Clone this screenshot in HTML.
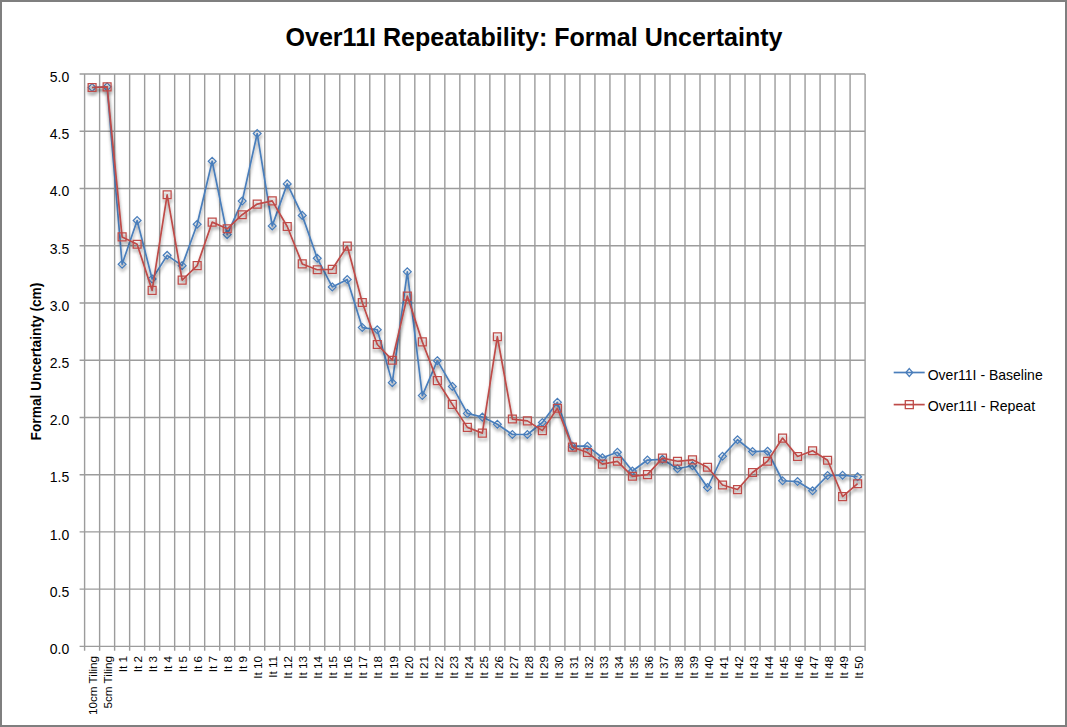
<!DOCTYPE html><html><head><meta charset="utf-8"><style>html,body{margin:0;padding:0;background:#fff;}svg{display:block;}text{font-family:"Liberation Sans",sans-serif;fill:#000;}</style></head><body>
<svg width="1067" height="727" viewBox="0 0 1067 727">
<defs><filter id="sh" x="-20%" y="-20%" width="140%" height="140%"><feDropShadow dx="0.5" dy="3" stdDeviation="1.7" flood-color="#000" flood-opacity="0.38"/></filter></defs>
<rect x="0" y="0" width="1067" height="727" fill="#fff"/>
<path d="M84.60 74.00V650.80M99.61 74.00V650.80M114.62 74.00V650.80M129.63 74.00V650.80M144.64 74.00V650.80M159.65 74.00V650.80M174.66 74.00V650.80M189.67 74.00V650.80M204.68 74.00V650.80M219.69 74.00V650.80M234.70 74.00V650.80M249.71 74.00V650.80M264.72 74.00V650.80M279.73 74.00V650.80M294.73 74.00V650.80M309.74 74.00V650.80M324.75 74.00V650.80M339.76 74.00V650.80M354.77 74.00V650.80M369.78 74.00V650.80M384.79 74.00V650.80M399.80 74.00V650.80M414.81 74.00V650.80M429.82 74.00V650.80M444.83 74.00V650.80M459.84 74.00V650.80M474.85 74.00V650.80M489.86 74.00V650.80M504.87 74.00V650.80M519.88 74.00V650.80M534.89 74.00V650.80M549.90 74.00V650.80M564.91 74.00V650.80M579.92 74.00V650.80M594.93 74.00V650.80M609.94 74.00V650.80M624.95 74.00V650.80M639.96 74.00V650.80M654.97 74.00V650.80M669.98 74.00V650.80M684.98 74.00V650.80M699.99 74.00V650.80M715.00 74.00V650.80M730.01 74.00V650.80M745.02 74.00V650.80M760.03 74.00V650.80M775.04 74.00V650.80M790.05 74.00V650.80M805.06 74.00V650.80M820.07 74.00V650.80M835.08 74.00V650.80M850.09 74.00V650.80M865.10 74.00V650.80M79.60 646.40H865.10M79.60 589.16H865.10M79.60 531.92H865.10M79.60 474.68H865.10M79.60 417.44H865.10M79.60 360.20H865.10M79.60 302.96H865.10M79.60 245.72H865.10M79.60 188.48H865.10M79.60 131.24H865.10M79.60 74.00H865.10" stroke="#9c9c9c" stroke-width="1.4" fill="none"/>
<text x="69.3" y="654.20" font-size="14" text-anchor="end">0.0</text>
<text x="69.3" y="596.96" font-size="14" text-anchor="end">0.5</text>
<text x="69.3" y="539.72" font-size="14" text-anchor="end">1.0</text>
<text x="69.3" y="482.48" font-size="14" text-anchor="end">1.5</text>
<text x="69.3" y="425.24" font-size="14" text-anchor="end">2.0</text>
<text x="69.3" y="368.00" font-size="14" text-anchor="end">2.5</text>
<text x="69.3" y="310.76" font-size="14" text-anchor="end">3.0</text>
<text x="69.3" y="253.52" font-size="14" text-anchor="end">3.5</text>
<text x="69.3" y="196.28" font-size="14" text-anchor="end">4.0</text>
<text x="69.3" y="139.04" font-size="14" text-anchor="end">4.5</text>
<text x="69.3" y="81.80" font-size="14" text-anchor="end">5.0</text>
<text transform="translate(97.30 655.90) rotate(-90)" font-size="11.7" text-anchor="end">10cm Tiling</text>
<text transform="translate(112.31 655.90) rotate(-90)" font-size="11.7" text-anchor="end">5cm Tiling</text>
<text transform="translate(127.32 655.90) rotate(-90)" font-size="11.7" text-anchor="end">It 1</text>
<text transform="translate(142.33 655.90) rotate(-90)" font-size="11.7" text-anchor="end">It 2</text>
<text transform="translate(157.34 655.90) rotate(-90)" font-size="11.7" text-anchor="end">It 3</text>
<text transform="translate(172.35 655.90) rotate(-90)" font-size="11.7" text-anchor="end">It 4</text>
<text transform="translate(187.36 655.90) rotate(-90)" font-size="11.7" text-anchor="end">It 5</text>
<text transform="translate(202.37 655.90) rotate(-90)" font-size="11.7" text-anchor="end">It 6</text>
<text transform="translate(217.38 655.90) rotate(-90)" font-size="11.7" text-anchor="end">It 7</text>
<text transform="translate(232.39 655.90) rotate(-90)" font-size="11.7" text-anchor="end">It 8</text>
<text transform="translate(247.40 655.90) rotate(-90)" font-size="11.7" text-anchor="end">It 9</text>
<text transform="translate(262.41 655.90) rotate(-90)" font-size="11.7" text-anchor="end">It 10</text>
<text transform="translate(277.42 655.90) rotate(-90)" font-size="11.7" text-anchor="end">It 11</text>
<text transform="translate(292.43 655.90) rotate(-90)" font-size="11.7" text-anchor="end">It 12</text>
<text transform="translate(307.44 655.90) rotate(-90)" font-size="11.7" text-anchor="end">It 13</text>
<text transform="translate(322.45 655.90) rotate(-90)" font-size="11.7" text-anchor="end">It 14</text>
<text transform="translate(337.46 655.90) rotate(-90)" font-size="11.7" text-anchor="end">It 15</text>
<text transform="translate(352.47 655.90) rotate(-90)" font-size="11.7" text-anchor="end">It 16</text>
<text transform="translate(367.48 655.90) rotate(-90)" font-size="11.7" text-anchor="end">It 17</text>
<text transform="translate(382.49 655.90) rotate(-90)" font-size="11.7" text-anchor="end">It 18</text>
<text transform="translate(397.50 655.90) rotate(-90)" font-size="11.7" text-anchor="end">It 19</text>
<text transform="translate(412.51 655.90) rotate(-90)" font-size="11.7" text-anchor="end">It 20</text>
<text transform="translate(427.52 655.90) rotate(-90)" font-size="11.7" text-anchor="end">It 21</text>
<text transform="translate(442.53 655.90) rotate(-90)" font-size="11.7" text-anchor="end">It 22</text>
<text transform="translate(457.54 655.90) rotate(-90)" font-size="11.7" text-anchor="end">It 23</text>
<text transform="translate(472.55 655.90) rotate(-90)" font-size="11.7" text-anchor="end">It 24</text>
<text transform="translate(487.55 655.90) rotate(-90)" font-size="11.7" text-anchor="end">It 25</text>
<text transform="translate(502.56 655.90) rotate(-90)" font-size="11.7" text-anchor="end">It 26</text>
<text transform="translate(517.57 655.90) rotate(-90)" font-size="11.7" text-anchor="end">It 27</text>
<text transform="translate(532.58 655.90) rotate(-90)" font-size="11.7" text-anchor="end">It 28</text>
<text transform="translate(547.59 655.90) rotate(-90)" font-size="11.7" text-anchor="end">It 29</text>
<text transform="translate(562.60 655.90) rotate(-90)" font-size="11.7" text-anchor="end">It 30</text>
<text transform="translate(577.61 655.90) rotate(-90)" font-size="11.7" text-anchor="end">It 31</text>
<text transform="translate(592.62 655.90) rotate(-90)" font-size="11.7" text-anchor="end">It 32</text>
<text transform="translate(607.63 655.90) rotate(-90)" font-size="11.7" text-anchor="end">It 33</text>
<text transform="translate(622.64 655.90) rotate(-90)" font-size="11.7" text-anchor="end">It 34</text>
<text transform="translate(637.65 655.90) rotate(-90)" font-size="11.7" text-anchor="end">It 35</text>
<text transform="translate(652.66 655.90) rotate(-90)" font-size="11.7" text-anchor="end">It 36</text>
<text transform="translate(667.67 655.90) rotate(-90)" font-size="11.7" text-anchor="end">It 37</text>
<text transform="translate(682.68 655.90) rotate(-90)" font-size="11.7" text-anchor="end">It 38</text>
<text transform="translate(697.69 655.90) rotate(-90)" font-size="11.7" text-anchor="end">It 39</text>
<text transform="translate(712.70 655.90) rotate(-90)" font-size="11.7" text-anchor="end">It 40</text>
<text transform="translate(727.71 655.90) rotate(-90)" font-size="11.7" text-anchor="end">It 41</text>
<text transform="translate(742.72 655.90) rotate(-90)" font-size="11.7" text-anchor="end">It 42</text>
<text transform="translate(757.73 655.90) rotate(-90)" font-size="11.7" text-anchor="end">It 43</text>
<text transform="translate(772.74 655.90) rotate(-90)" font-size="11.7" text-anchor="end">It 44</text>
<text transform="translate(787.75 655.90) rotate(-90)" font-size="11.7" text-anchor="end">It 45</text>
<text transform="translate(802.76 655.90) rotate(-90)" font-size="11.7" text-anchor="end">It 46</text>
<text transform="translate(817.77 655.90) rotate(-90)" font-size="11.7" text-anchor="end">It 47</text>
<text transform="translate(832.78 655.90) rotate(-90)" font-size="11.7" text-anchor="end">It 48</text>
<text transform="translate(847.79 655.90) rotate(-90)" font-size="11.7" text-anchor="end">It 49</text>
<text transform="translate(862.80 655.90) rotate(-90)" font-size="11.7" text-anchor="end">It 50</text>
<text x="285.5" y="45.5" font-size="26" font-weight="bold" textLength="497" lengthAdjust="spacingAndGlyphs">Over11I Repeatability: Formal Uncertainty</text>
<text transform="translate(40.9 440.4) rotate(-90)" font-size="15" font-weight="bold" textLength="157.8" lengthAdjust="spacingAndGlyphs">Formal Uncertainty (cm)</text>
<g filter="url(#sh)"><polyline points="92.10,87.51 107.11,86.82 122.12,264.27 137.13,220.53 152.14,278.92 167.15,255.34 182.16,265.64 197.17,224.31 212.18,161.23 227.19,234.62 242.20,201.07 257.21,133.53 272.22,225.91 287.23,183.90 302.24,215.38 317.25,258.31 332.26,286.93 347.27,279.49 362.28,327.57 377.29,329.75 392.30,382.64 407.31,271.82 422.32,395.57 437.33,360.66 452.34,386.42 467.35,413.43 482.35,417.10 497.36,424.31 512.37,434.50 527.38,434.50 542.39,422.48 557.40,402.33 572.41,446.17 587.42,446.17 602.43,457.74 617.44,452.24 632.45,471.02 647.46,460.03 662.47,459.34 677.48,468.73 692.49,465.75 707.50,487.50 722.51,456.25 737.52,439.76 752.53,451.56 767.54,451.21 782.55,480.75 797.56,481.55 812.57,490.82 827.58,475.48 842.59,475.25 857.60,476.74" fill="none" stroke="#4a7ebb" stroke-width="1.7" stroke-linejoin="round"/><path d="M92.10 83.61L96.00 87.51L92.10 91.41L88.20 87.51ZM107.11 82.92L111.01 86.82L107.11 90.72L103.21 86.82ZM122.12 260.37L126.02 264.27L122.12 268.17L118.22 264.27ZM137.13 216.63L141.03 220.53L137.13 224.43L133.23 220.53ZM152.14 275.02L156.04 278.92L152.14 282.82L148.24 278.92ZM167.15 251.44L171.05 255.34L167.15 259.24L163.25 255.34ZM182.16 261.74L186.06 265.64L182.16 269.54L178.26 265.64ZM197.17 220.41L201.07 224.31L197.17 228.21L193.27 224.31ZM212.18 157.33L216.08 161.23L212.18 165.13L208.28 161.23ZM227.19 230.72L231.09 234.62L227.19 238.52L223.29 234.62ZM242.20 197.17L246.10 201.07L242.20 204.97L238.30 201.07ZM257.21 129.63L261.11 133.53L257.21 137.43L253.31 133.53ZM272.22 222.01L276.12 225.91L272.22 229.81L268.32 225.91ZM287.23 180.00L291.13 183.90L287.23 187.80L283.33 183.90ZM302.24 211.48L306.14 215.38L302.24 219.28L298.34 215.38ZM317.25 254.41L321.15 258.31L317.25 262.21L313.35 258.31ZM332.26 283.03L336.16 286.93L332.26 290.83L328.36 286.93ZM347.27 275.59L351.17 279.49L347.27 283.39L343.37 279.49ZM362.28 323.67L366.18 327.57L362.28 331.47L358.38 327.57ZM377.29 325.85L381.19 329.75L377.29 333.65L373.39 329.75ZM392.30 378.74L396.20 382.64L392.30 386.54L388.40 382.64ZM407.31 267.92L411.21 271.82L407.31 275.72L403.41 271.82ZM422.32 391.67L426.22 395.57L422.32 399.47L418.42 395.57ZM437.33 356.76L441.23 360.66L437.33 364.56L433.43 360.66ZM452.34 382.52L456.24 386.42L452.34 390.32L448.44 386.42ZM467.35 409.53L471.25 413.43L467.35 417.33L463.45 413.43ZM482.35 413.20L486.25 417.10L482.35 421.00L478.45 417.10ZM497.36 420.41L501.26 424.31L497.36 428.21L493.46 424.31ZM512.37 430.60L516.27 434.50L512.37 438.40L508.47 434.50ZM527.38 430.60L531.28 434.50L527.38 438.40L523.48 434.50ZM542.39 418.58L546.29 422.48L542.39 426.38L538.49 422.48ZM557.40 398.43L561.30 402.33L557.40 406.23L553.50 402.33ZM572.41 442.27L576.31 446.17L572.41 450.07L568.51 446.17ZM587.42 442.27L591.32 446.17L587.42 450.07L583.52 446.17ZM602.43 453.84L606.33 457.74L602.43 461.64L598.53 457.74ZM617.44 448.34L621.34 452.24L617.44 456.14L613.54 452.24ZM632.45 467.12L636.35 471.02L632.45 474.92L628.55 471.02ZM647.46 456.13L651.36 460.03L647.46 463.93L643.56 460.03ZM662.47 455.44L666.37 459.34L662.47 463.24L658.57 459.34ZM677.48 464.83L681.38 468.73L677.48 472.63L673.58 468.73ZM692.49 461.85L696.39 465.75L692.49 469.65L688.59 465.75ZM707.50 483.60L711.40 487.50L707.50 491.40L703.60 487.50ZM722.51 452.35L726.41 456.25L722.51 460.15L718.61 456.25ZM737.52 435.86L741.42 439.76L737.52 443.66L733.62 439.76ZM752.53 447.66L756.43 451.56L752.53 455.46L748.63 451.56ZM767.54 447.31L771.44 451.21L767.54 455.11L763.64 451.21ZM782.55 476.85L786.45 480.75L782.55 484.65L778.65 480.75ZM797.56 477.65L801.46 481.55L797.56 485.45L793.66 481.55ZM812.57 486.92L816.47 490.82L812.57 494.72L808.67 490.82ZM827.58 471.58L831.48 475.48L827.58 479.38L823.68 475.48ZM842.59 471.35L846.49 475.25L842.59 479.15L838.69 475.25ZM857.60 472.84L861.50 476.74L857.60 480.64L853.70 476.74Z" fill="none" stroke="#4a7ebb" stroke-width="1.25"/></g>
<g filter="url(#sh)"><polyline points="92.10,87.51 107.11,86.82 122.12,236.91 137.13,244.23 152.14,290.37 167.15,194.78 182.16,280.06 197.17,265.64 212.18,222.14 227.19,228.78 242.20,214.70 257.21,204.05 272.22,200.84 287.23,226.49 302.24,263.92 317.25,269.76 332.26,269.30 347.27,246.06 362.28,302.50 377.29,344.52 392.30,360.20 407.31,296.09 422.32,341.88 437.33,380.69 452.34,404.39 467.35,427.40 482.35,433.12 497.36,336.73 512.37,419.04 527.38,420.87 542.39,430.61 557.40,408.28 572.41,447.09 587.42,452.47 602.43,464.15 617.44,461.29 632.45,476.28 647.46,474.68 662.47,458.19 677.48,461.29 692.49,459.80 707.50,467.24 722.51,484.98 737.52,489.56 752.53,472.50 767.54,461.29 782.55,438.05 797.56,456.48 812.57,450.75 827.58,460.26 842.59,496.55 857.60,483.72" fill="none" stroke="#be4b48" stroke-width="1.7" stroke-linejoin="round"/><path d="M88.15 83.56H96.05V91.46H88.15ZM103.16 82.87H111.06V90.77H103.16ZM118.17 232.96H126.07V240.86H118.17ZM133.18 240.28H141.08V248.18H133.18ZM148.19 286.42H156.09V294.32H148.19ZM163.20 190.83H171.10V198.73H163.20ZM178.21 276.11H186.11V284.01H178.21ZM193.22 261.69H201.12V269.59H193.22ZM208.23 218.19H216.13V226.09H208.23ZM223.24 224.83H231.14V232.73H223.24ZM238.25 210.75H246.15V218.65H238.25ZM253.26 200.10H261.16V208.00H253.26ZM268.27 196.89H276.17V204.79H268.27ZM283.28 222.54H291.18V230.44H283.28ZM298.29 259.97H306.19V267.87H298.29ZM313.30 265.81H321.20V273.71H313.30ZM328.31 265.35H336.21V273.25H328.31ZM343.32 242.11H351.22V250.01H343.32ZM358.33 298.55H366.23V306.45H358.33ZM373.34 340.57H381.24V348.47H373.34ZM388.35 356.25H396.25V364.15H388.35ZM403.36 292.14H411.26V300.04H403.36ZM418.37 337.93H426.27V345.83H418.37ZM433.38 376.74H441.28V384.64H433.38ZM448.39 400.44H456.29V408.34H448.39ZM463.40 423.45H471.30V431.35H463.40ZM478.40 429.17H486.30V437.07H478.40ZM493.41 332.78H501.31V340.68H493.41ZM508.42 415.09H516.32V422.99H508.42ZM523.43 416.92H531.33V424.82H523.43ZM538.44 426.66H546.34V434.56H538.44ZM553.45 404.33H561.35V412.23H553.45ZM568.46 443.14H576.36V451.04H568.46ZM583.47 448.52H591.37V456.42H583.47ZM598.48 460.20H606.38V468.10H598.48ZM613.49 457.34H621.39V465.24H613.49ZM628.50 472.33H636.40V480.23H628.50ZM643.51 470.73H651.41V478.63H643.51ZM658.52 454.24H666.42V462.14H658.52ZM673.53 457.34H681.43V465.24H673.53ZM688.54 455.85H696.44V463.75H688.54ZM703.55 463.29H711.45V471.19H703.55ZM718.56 481.03H726.46V488.93H718.56ZM733.57 485.61H741.47V493.51H733.57ZM748.58 468.55H756.48V476.45H748.58ZM763.59 457.34H771.49V465.24H763.59ZM778.60 434.10H786.50V442.00H778.60ZM793.61 452.53H801.51V460.43H793.61ZM808.62 446.80H816.52V454.70H808.62ZM823.63 456.31H831.53V464.21H823.63ZM838.64 492.60H846.54V500.50H838.64ZM853.65 479.77H861.55V487.67H853.65Z" fill="none" stroke="#be4b48" stroke-width="1.25"/></g>
<g><path d="M893.7 372.5H924.7" stroke="#4a7ebb" stroke-width="1.7"/><path d="M909.3 368.6L912.7 372.5L909.3 376.4L905.9 372.5Z" fill="none" stroke="#4a7ebb" stroke-width="1.3"/></g>
<text x="927.7" y="379.9" font-size="15" textLength="115" lengthAdjust="spacingAndGlyphs">Over11I - Baseline</text>
<g><path d="M893.7 404.6H924.7" stroke="#be4b48" stroke-width="1.7"/><path d="M905.3 400.6H913.3V408.6H905.3Z" fill="none" stroke="#be4b48" stroke-width="1.3"/></g>
<text x="927.7" y="411.4" font-size="15" textLength="107.4" lengthAdjust="spacingAndGlyphs">Over11I - Repeat</text>
<rect x="1" y="1" width="1065" height="725" fill="none" stroke="#7f7f7f" stroke-width="2"/>
</svg></body></html>
